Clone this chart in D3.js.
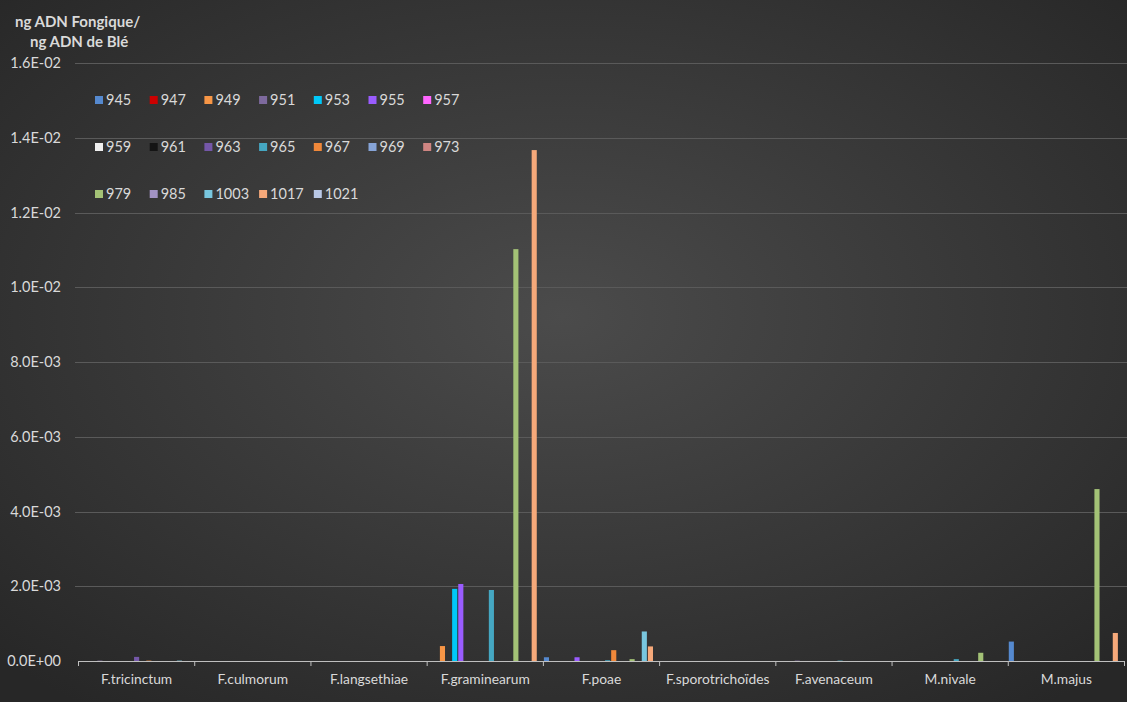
<!DOCTYPE html>
<html>
<head>
<meta charset="utf-8">
<script src="https://cdn.jsdelivr.net/npm/d3@7"></script>
<style>
html,body{margin:0;padding:0;background:#2b2b2b;}
svg{display:block;}
text{font-family:Lato,"Open Sans",sans-serif;}
</style>
</head>
<body>
<svg id="chart" width="1127" height="702"></svg>
<script>
// ---- data ----
const categories = ["F.tricinctum","F.culmorum","F.langsethiae","F.graminearum","F.poae","F.sporotrichoïdes","F.avenaceum","M.nivale","M.majus"];
const seriesNames = ["945","947","949","951","953","955","957","959","961","963","965","967","969","973","979","985","1003","1017","1021"];
const seriesColors = ["#5589cf","#cc0000","#f79646","#7e6a9e","#00c8f8","#9a5cff","#ff66ff","#efefef","#141414","#7457a8","#45a7c2","#f0883a","#86a4d8","#cf8582","#a3c276","#a293c4","#78c6de","#f6a97a","#b9c8e6"];
const v945  = [0,0,0,0,1.0e-4,0,0,0,5.2e-4];
const v947  = [0,0,0,0,0,0,0,0,0];
const v949  = [0,0,0,4.0e-4,0,0,0,0,0];
const v951  = [1e-5,0,0,0,0,0,1e-5,0,0];
const v953  = [0,0,0,1.93e-3,0,0,0,0,0];
const v955  = [0,0,0,2.06e-3,1.0e-4,0,0,0,0];
const v957  = [0,0,0,0,0,0,0,0,0];
const v959  = [0,0,0,0,0,0,0,0,0];
const v961  = [0,0,0,0,0,0,0,0,0];
const v963  = [1.1e-4,0,0,0,0,0,0,0,0];
const v965  = [0,0,0,1.9e-3,2e-5,0,1e-5,5e-5,0];
const v967  = [1e-5,0,0,0,2.9e-4,0,0,0,0];
const v969  = [0,0,0,0,0,0,0,0,0];
const v973  = [0,0,0,0,0,0,0,0,0];
const v979  = [0,0,0,1.102e-2,5e-5,0,0,2.2e-4,4.6e-3];
const v985  = [0,0,0,0,0,0,0,0,0];
const v1003 = [1e-5,0,0,0,7.9e-4,0,0,0,0];
const v1017 = [0,0,0,1.367e-2,3.9e-4,0,0,0,7.5e-4];
const v1021 = [0,0,0,0,0,0,0,0,0];
const seriesValues = [v945,v947,v949,v951,v953,v955,v957,v959,v961,v963,v965,v967,v969,v973,v979,v985,v1003,v1017,v1021];
const yTicks = [0,0.002,0.004,0.006,0.008,0.010,0.012,0.014,0.016];
const yTickLabels = ["0.0E+00","2.0E-03","4.0E-03","6.0E-03","8.0E-03","1.0E-02","1.2E-02","1.4E-02","1.6E-02"];
const titleLines = ["ng ADN Fongique/","ng ADN de Blé"];

// ---- drawing ----
const W = 1127, H = 702;
const svg = d3.select("#chart");
const defs = svg.append("defs");
const grad = defs.append("radialGradient").attr("id","bg").attr("cx","50%").attr("cy","45%").attr("r","70%");
grad.append("stop").attr("offset","0%").attr("stop-color","#4b4b4b");
grad.append("stop").attr("offset","100%").attr("stop-color","#272727");
svg.append("rect").attr("width",W).attr("height",H).attr("fill","url(#bg)");

const x0 = d3.scaleBand().domain(categories).range([78.5,1124.5]).paddingInner(0).paddingOuter(0);
const x1 = d3.scaleBand().domain(seriesNames).range([0,x0.bandwidth()]).padding(0);
const y = d3.scaleLinear().domain([0,0.016]).range([661,63]);

// gridlines
svg.append("g").selectAll("line").data(yTicks.slice(1)).join("line")
  .attr("x1",75).attr("x2",W).attr("y1",d=>Math.round(y(d))+0.5).attr("y2",d=>Math.round(y(d))+0.5)
  .attr("stroke","#5a5a5a").attr("stroke-width",1);

// y labels
svg.append("g").selectAll("text").data(yTicks).join("text")
  .attr("x",61).attr("y",d=>y(d)).attr("dy","0.35em").attr("text-anchor","end")
  .attr("fill","#d9d9d9").attr("font-size","14.5px")
  .text((d,i)=>yTickLabels[i]);

// bars
const gcat = svg.append("g").selectAll("g").data(categories).join("g")
  .attr("transform",d=>`translate(${x0(d)},0)`);
gcat.selectAll("rect").data((c,ci)=>seriesNames.map((s,si)=>({s,si,v:seriesValues[si][ci]})).filter(d=>d.v>0))
  .join("rect")
  .attr("x",d=>x1(d.s)+0.5).attr("width",x1.bandwidth()-1)
  .attr("y",d=>y(d.v)).attr("height",d=>Math.max(0.8,y(0)-y(d.v)))
  .attr("fill",d=>seriesColors[d.si]);

// x axis
const xAxis = d3.axisBottom(x0).tickSize(0).tickFormat(d=>d);
const ax = svg.append("g").attr("transform",`translate(0,${y(0)})`).call(xAxis);
ax.select(".domain").attr("stroke","#bfbfbf").attr("stroke-width",1.2);
ax.selectAll("text").attr("fill","#d9d9d9").attr("font-size","13.8px").attr("dy","1.45em")
  .attr("font-family","Lato,'Open Sans',sans-serif");
// category boundary ticks
const bounds = categories.map(c=>x0(c)).concat([x0.range()[1]]);
svg.append("g").selectAll("line").data(bounds).join("line")
  .attr("x1",d=>d).attr("x2",d=>d).attr("y1",y(0)).attr("y2",y(0)+5)
  .attr("stroke","#bfbfbf").attr("stroke-width",1);

// title
svg.append("text").attr("x",15).attr("y",27).attr("fill","#d9d9d9").attr("font-size","15px").attr("font-weight","bold").text(titleLines[0]);
svg.append("text").attr("x",30).attr("y",47).attr("fill","#d9d9d9").attr("font-size","15px").attr("font-weight","bold").text(titleLines[1]);

// legend
const lg = svg.append("g").selectAll("g").data(seriesNames).join("g")
  .attr("transform",(d,i)=>`translate(${95+54.7*(i%7)},${100+47*Math.floor(i/7)})`);
lg.append("rect").attr("x",0).attr("y",-4).attr("width",8).attr("height",8).attr("fill",(d,i)=>seriesColors[i]);
lg.append("text").attr("x",11).attr("y",0).attr("dy","0.36em").attr("fill","#d9d9d9").attr("font-size","14.5px").text(d=>d);
</script>
</body>
</html>
